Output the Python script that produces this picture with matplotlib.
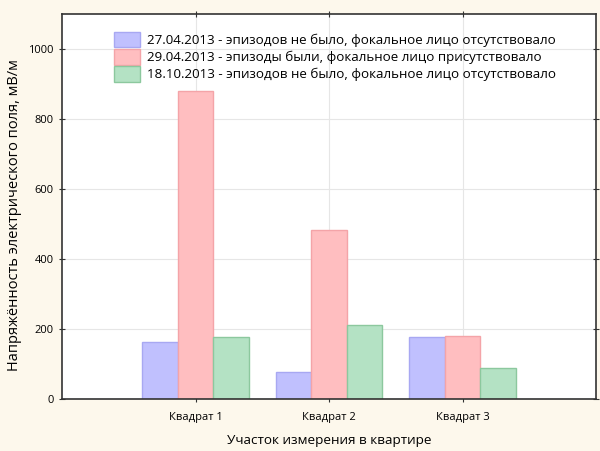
import matplotlib.pyplot as plt
import numpy as np

plt.rcParams['font.family'] = ['Open Sans', 'DejaVu Sans']

categories = ["Квадрат 1", "Квадрат 2", "Квадрат 3"]
series_labels = [
    "27.04.2013 - эпизодов не было, фокальное лицо отсутствовало",
    "29.04.2013 - эпизоды были, фокальное лицо присутствовало",
    "18.10.2013 - эпизодов не было, фокальное лицо отсутствовало",
]
values_0427 = [162, 77, 176]
values_0429 = [880, 483, 180]
values_1018 = [176, 211, 89]

series = [values_0427, values_0429, values_1018]
fills = ['#c0c0fe', '#ffbec0', '#b4e2c4']
edges = ['#a8a8f2', '#f4a4a8', '#8cc89e']

fig = plt.figure(figsize=(6, 4.51), dpi=100, facecolor='#fdf8ec')
ax = fig.add_axes([62 / 600, 1 - 399 / 451, 534 / 600, 385 / 451])
ax.set_facecolor('white')

x = np.arange(1, len(categories) + 1)
w = 0.266
for i, (vals, fc, ec, lab) in enumerate(zip(series, fills, edges, series_labels)):
    ax.bar(x + (i - 1) * w, vals, width=w, color=fc, edgecolor=ec, linewidth=1,
           label=lab, zorder=2)

ax.set_xlim(0, 4)
ax.set_ylim(0, 1100)
ax.set_xticks(x)
ax.set_xticklabels(categories, fontsize=8)
ax.set_yticks([0, 200, 400, 600, 800, 1000])
ax.tick_params(axis='y', labelsize=8)
ax.tick_params(direction='inout', length=5, color='#333333', top=True, right=True)
ax.tick_params(axis='x', pad=7)
ax.grid(True, color='#e6e6e6', linewidth=0.8, zorder=0)
ax.set_axisbelow(True)
for s in ax.spines.values():
    s.set_color('#333333')
    s.set_linewidth(1.2)

ax.set_xlabel("Участок измерения в квартире", fontsize=9.7, labelpad=8)
ax.set_ylabel("Напряжённость электрического поля, мВ/м", fontsize=10.5)
ax.yaxis.set_label_coords(-0.074, 0.478)

ax.legend(loc='upper left', bbox_to_anchor=(0.075, 0.985), frameon=False,
          fontsize=9.65, handlelength=1.9, handleheight=1.4, labelspacing=0.13,
          handletextpad=0.55)

fig.savefig('out.png', dpi=100, facecolor=fig.get_facecolor())
